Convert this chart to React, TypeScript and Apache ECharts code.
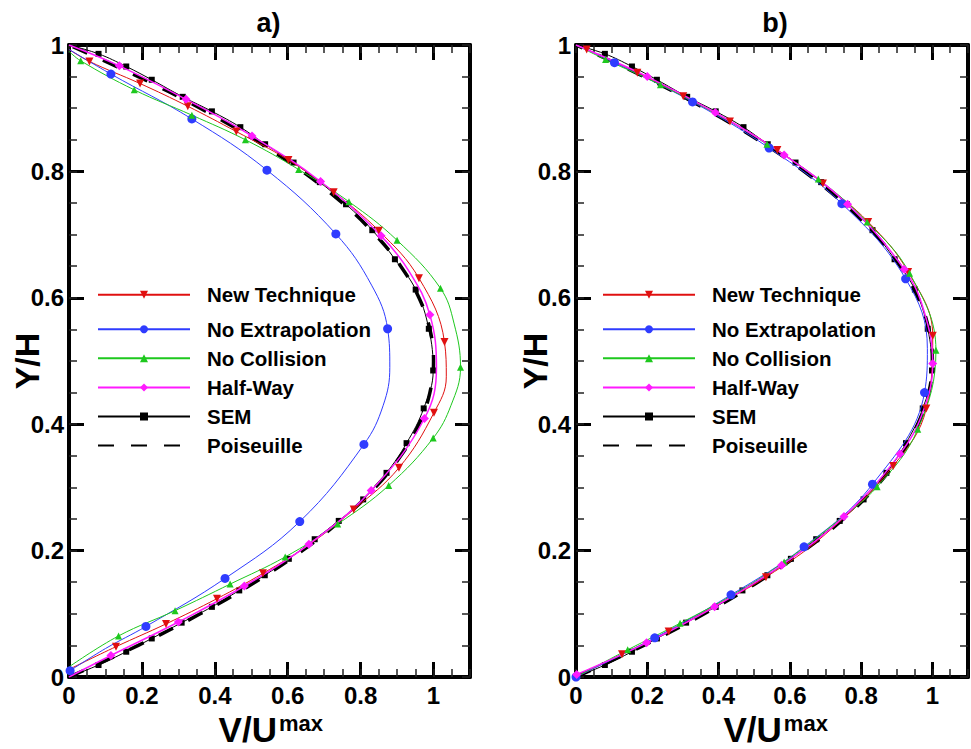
import React, { useEffect, useRef } from 'react';
import * as echarts from 'echarts';

const FONT = '"Liberation Sans", Arial, Helvetica, sans-serif';

const seriesNames = ['New Technique', 'No Extrapolation', 'No Collision', 'Half-Way', 'SEM', 'Poiseuille'];
const xTickValues = [0, 0.2, 0.4, 0.6, 0.8, 1];
const xTickLabels = ['0', '0.2', '0.4', '0.6', '0.8', '1'];
const yTickValues = [0, 0.2, 0.4, 0.6, 0.8, 1];
const yTickLabels = ['0', '0.2', '0.4', '0.6', '0.8', '1'];

// ---- panel a) : [V/Umax, Y/H] ----
const aNewTechMarks = [[0.129, 0.048], [0.266, 0.084], [0.406, 0.124], [0.532, 0.164], [0.781, 0.265], [0.905, 0.331], [1.001, 0.418], [1.030, 0.530], [0.960, 0.631], [0.850, 0.706], [0.726, 0.767], [0.602, 0.818], [0.459, 0.863], [0.326, 0.903], [0.195, 0.939], [0.056, 0.974]];
const aNewTechPath = [[0, 0.012], [0.66, 0.21], [1.035, 0.475], [0, 0.993]];

const aNoExtrapMarks = [[0.003, 0.01], [0.211, 0.08], [0.428, 0.156], [0.633, 0.246], [0.809, 0.368], [0.874, 0.551], [0.732, 0.701], [0.543, 0.802], [0.337, 0.883], [0.115, 0.954]];
const aNoExtrapPath = [[0.1, 0.045], [0.862, 0.43], [0.88, 0.49], [0.83, 0.62], [0, 0.993]];

const aNoCollMarks = [[0.136, 0.065], [0.291, 0.105], [0.442, 0.147], [0.593, 0.19], [0.737, 0.242], [0.877, 0.303], [0.999, 0.378], [1.074, 0.49], [1.019, 0.615], [0.90, 0.691], [0.768, 0.752], [0.630, 0.803], [0.484, 0.85], [0.337, 0.889], [0.179, 0.929], [0.032, 0.975]];
const aNoCollPath = [[0, 0.016], [1.048, 0.43], [1.056, 0.56], [0, 0.99]];

const aHalfWayMarks = [[0.115, 0.034], [0.300, 0.087], [0.481, 0.144], [0.658, 0.21], [0.829, 0.295], [0.975, 0.409], [0.99, 0.573], [0.856, 0.698], [0.690, 0.784], [0.502, 0.856], [0.321, 0.914], [0.138, 0.967]];
const aHalfWayPath = [[0, 0], [1.008, 0.49], [0.935, 0.64], [0, 1]];

// ---- shared reference data (both panels) ----
const semMarks = [[0.081, 0.019], [0.157, 0.04], [0.227, 0.061], [0.309, 0.086], [0.392, 0.111], [0.467, 0.137], [0.537, 0.161], [0.603, 0.187], [0.674, 0.218], [0.74, 0.247], [0.807, 0.281], [0.871, 0.323], [0.926, 0.37], [0.973, 0.425], [0.999, 0.485], [0.987, 0.551], [0.951, 0.613], [0.894, 0.661], [0.832, 0.707], [0.76, 0.748], [0.688, 0.783], [0.616, 0.814], [0.538, 0.843], [0.47, 0.87], [0.392, 0.895], [0.312, 0.918], [0.227, 0.945], [0.157, 0.966], [0.081, 0.986]];
const semPath = [[0, 0], [0, 1]];

const poiseuille = [[0, 0], [0.19, 0.05], [0.36, 0.1], [0.51, 0.15], [0.64, 0.2], [0.75, 0.25], [0.84, 0.3], [0.91, 0.35], [0.96, 0.4], [0.99, 0.45], [1, 0.5], [0.99, 0.55], [0.96, 0.6], [0.91, 0.65], [0.84, 0.7], [0.75, 0.75], [0.64, 0.8], [0.51, 0.85], [0.36, 0.9], [0.19, 0.95], [0, 1]];

// ---- panel b) ----
const bNewTechMarks = [[0.129, 0.036], [0.26, 0.072], [0.533, 0.158], [0.890, 0.334], [0.983, 0.425], [1.001, 0.54], [0.932, 0.641], [0.820, 0.720], [0.693, 0.781], [0.565, 0.834], [0.432, 0.879], [0.301, 0.919], [0.172, 0.956], [0.03, 0.993]];
const bNewTechPath = [[0, 0], [0.395, 0.114], [0.70, 0.226], [0, 1]];

const bNoExtrapMarks = [[0, 0], [0.221, 0.062], [0.435, 0.130], [0.640, 0.206], [0.832, 0.305], [0.978, 0.450], [0.925, 0.630], [0.746, 0.749], [0.542, 0.837], [0.327, 0.910], [0.108, 0.972]];
const bNoExtrapPath = [[0.986, 0.52], [0, 1]];

const bNoCollMarks = [[0.145, 0.043], [0.292, 0.085], [0.584, 0.182], [0.845, 0.301], [0.959, 0.392], [1.010, 0.517], [0.936, 0.639], [0.817, 0.72], [0.68, 0.788], [0.536, 0.843], [0.237, 0.937], [0.083, 0.977]];
const bNoCollPath = [[0, 0], [0.44, 0.13], [0.73, 0.245], [0.39, 0.892], [0, 1]];

const bHalfWayMarks = [[0.002, 0.004], [0.198, 0.054], [0.389, 0.111], [0.577, 0.177], [0.752, 0.254], [0.909, 0.353], [1.001, 0.496], [0.921, 0.645], [0.762, 0.748], [0.584, 0.826], [0.391, 0.893], [0.2, 0.95]];
const bHalfWayPath = [[0.974, 0.42], [0.976, 0.58], [0, 1]];

function build(marks: number[][], path: number[][]) {
  const pts = [
    ...marks.map((p) => ({ v: p, m: true })),
    ...path.map((p) => ({ v: p, m: false })),
  ];
  pts.sort((a, b) => a.v[1] - b.v[1]);
  return pts.map((p) => (p.m ? { value: p.v } : { value: p.v, symbol: 'none' }));
}

const STYLES: Record<string, any> = {
  'New Technique': { color: '#e01010', symbol: 'triangle', rotate: 180, size: 8, width: 1 },
  'No Extrapolation': { color: '#2f3cff', symbol: 'circle', rotate: 0, size: 9, width: 1 },
  'No Collision': { color: '#1ec81e', symbol: 'triangle', rotate: 0, size: 7, width: 1 },
  'Half-Way': { color: '#ff1aff', symbol: 'diamond', rotate: 0, size: 9, width: 1.5 },
  SEM: { color: '#000000', symbol: 'rect', rotate: 0, size: 6, width: 1 },
};

function lineSeries(name: string, data: any[], axisIdx: number, z: number) {
  const s = STYLES[name];
  return {
    type: 'line',
    name,
    xAxisIndex: axisIdx,
    yAxisIndex: axisIdx,
    data,
    smooth: 0.4,
    showSymbol: true,
    symbol: s.symbol,
    symbolSize: s.size,
    symbolRotate: s.rotate,
    itemStyle: { color: s.color },
    lineStyle: { color: s.color, width: s.width },
    z,
    silent: true,
  };
}

function poiseuilleSeries(axisIdx: number) {
  return {
    type: 'line',
    name: 'Poiseuille',
    xAxisIndex: axisIdx,
    yAxisIndex: axisIdx,
    data: poiseuille,
    smooth: 0.4,
    showSymbol: false,
    symbol: 'circle',
    itemStyle: { color: 'rgba(0,0,0,0)' },
    lineStyle: { color: '#000', width: 3.5, type: [16, 17] },
    z: 2,
    silent: true,
  };
}

const fmt = (vals: number[], labels: string[]) => (v: number) => {
  const i = vals.findIndex((t) => Math.abs(t - v) < 1e-6);
  return i >= 0 ? labels[i] : '';
};

const labelStyle = { fontSize: 24, fontWeight: 'bold', fontFamily: FONT, color: '#000' };
const frameLine = { show: true, onZero: false, lineStyle: { color: '#000', width: 4 } };
const majorTick = { show: true, inside: true, length: 15, lineStyle: { color: '#000', width: 3 } };
const minorTick = { show: true, inside: true, length: 8, lineStyle: { color: '#222', width: 1.5 } };

function xAxesFor(gridIndex: number) {
  const base = { gridIndex, type: 'value', min: 0, max: 1.1, splitLine: { show: false } };
  return [
    { ...base, position: 'bottom', interval: 0.2, axisLine: frameLine, axisTick: majorTick, axisLabel: { ...labelStyle, margin: 6, formatter: fmt(xTickValues, xTickLabels) } },
    { ...base, position: 'bottom', interval: 0.05, axisLine: { show: false, onZero: false }, axisTick: minorTick, axisLabel: { show: false } },
    { ...base, position: 'top', interval: 0.2, axisLine: frameLine, axisTick: majorTick, axisLabel: { show: false } },
    { ...base, position: 'top', interval: 0.05, axisLine: { show: false, onZero: false }, axisTick: minorTick, axisLabel: { show: false } },
  ];
}

function yAxesFor(gridIndex: number) {
  const base = { gridIndex, type: 'value', min: 0, max: 1, splitLine: { show: false } };
  return [
    { ...base, position: 'left', interval: 0.2, axisLine: frameLine, axisTick: majorTick, axisLabel: { ...labelStyle, margin: 5, formatter: fmt(yTickValues, yTickLabels) } },
    { ...base, position: 'left', interval: 0.05, axisLine: { show: false, onZero: false }, axisTick: minorTick, axisLabel: { show: false } },
    { ...base, position: 'right', interval: 0.2, axisLine: frameLine, axisTick: majorTick, axisLabel: { show: false } },
    { ...base, position: 'right', interval: 0.05, axisLine: { show: false, onZero: false }, axisTick: minorTick, axisLabel: { show: false } },
  ];
}

const legendText = { fontSize: 20.5, fontWeight: 'bold', fontFamily: FONT, color: '#000', lineHeight: 20, padding: [0, 0, 0, 12] };

function legendsAt(left: number) {
  const common = {
    orient: 'vertical',
    left,
    padding: 0,
    itemWidth: 92,
    itemHeight: 10,
    selectedMode: false,
    textStyle: legendText,
    symbolRotate: 'inherit',
  };
  return [
    { ...common, top: 284.3, data: [seriesNames[0]] },
    { ...common, top: 318.7, itemGap: 8.1, data: seriesNames.slice(1) },
  ];
}

function txt(text: string, x: number, y: number, size: number, align: string, rotation = 0) {
  return {
    type: 'text',
    x,
    y,
    rotation,
    silent: true,
    style: {
      text,
      font: `bold ${size}px ${FONT}`,
      fill: '#000',
      textAlign: align,
      align,
      textVerticalAlign: 'middle',
      verticalAlign: 'middle',
    },
  };
}

function axisTitle(x: number, y: number) {
  return {
    type: 'text',
    x,
    y,
    silent: true,
    style: {
      text: '{a|V/U}{b|max}',
      fill: '#000',
      textAlign: 'center',
      align: 'center',
      textVerticalAlign: 'middle',
      verticalAlign: 'middle',
      rich: {
        a: { fontSize: 35, fontWeight: 'bold', fontFamily: FONT, lineHeight: 35, fill: '#000', color: '#000' },
        b: { fontSize: 22, fontWeight: 'bold', fontFamily: FONT, lineHeight: 10, verticalAlign: 'top', fill: '#000', color: '#000', padding: [0, 0, 0, 2] },
      },
    },
  };
}

export default function App() {
  const ref = useRef<HTMLDivElement>(null);
  useEffect(() => {
    if (!ref.current) return;
    const chart = echarts.init(ref.current, null, { renderer: 'svg' });
    const option: any = {
      animation: false,
      backgroundColor: '#ffffff',
      grid: [
        { left: 69, top: 45, width: 401, height: 632 },
        { left: 576, top: 45, width: 398, height: 632 },
      ],
      xAxis: [...xAxesFor(0), ...xAxesFor(1)],
      yAxis: [...yAxesFor(0), ...yAxesFor(1)],
      legend: [...legendsAt(97), ...legendsAt(602)],
      series: [
        poiseuilleSeries(0),
        lineSeries('SEM', build(semMarks, semPath), 0, 3),
        lineSeries('New Technique', build(aNewTechMarks, aNewTechPath), 0, 4),
        lineSeries('No Extrapolation', build(aNoExtrapMarks, aNoExtrapPath), 0, 4),
        lineSeries('No Collision', build(aNoCollMarks, aNoCollPath), 0, 4),
        lineSeries('Half-Way', build(aHalfWayMarks, aHalfWayPath), 0, 4),
        poiseuilleSeries(4),
        lineSeries('SEM', build(semMarks, semPath), 4, 3),
        lineSeries('New Technique', build(bNewTechMarks, bNewTechPath), 4, 4),
        lineSeries('No Extrapolation', build(bNoExtrapMarks, bNoExtrapPath), 4, 4),
        lineSeries('No Collision', build(bNoCollMarks, bNoCollPath), 4, 4),
        lineSeries('Half-Way', build(bHalfWayMarks, bHalfWayPath), 4, 4),
      ],
      graphic: [
        txt('a)', 268.5, 23, 27, 'center'),
        txt('b)', 775, 23, 27, 'center'),
        txt('Y/H', 27, 361, 34, 'center', Math.PI / 2),
        txt('Y/H', 535, 361, 34, 'center', Math.PI / 2),
        axisTitle(270.8, 729.8),
        axisTitle(775.7, 729.8),
      ],
    };
    chart.setOption(option);
    return () => chart.dispose();
  }, []);
  return (
    <div
      ref={ref}
      style={{ position: 'fixed', left: 0, top: 0, width: 971, height: 749, background: '#fff' }}
    />
  );
}
